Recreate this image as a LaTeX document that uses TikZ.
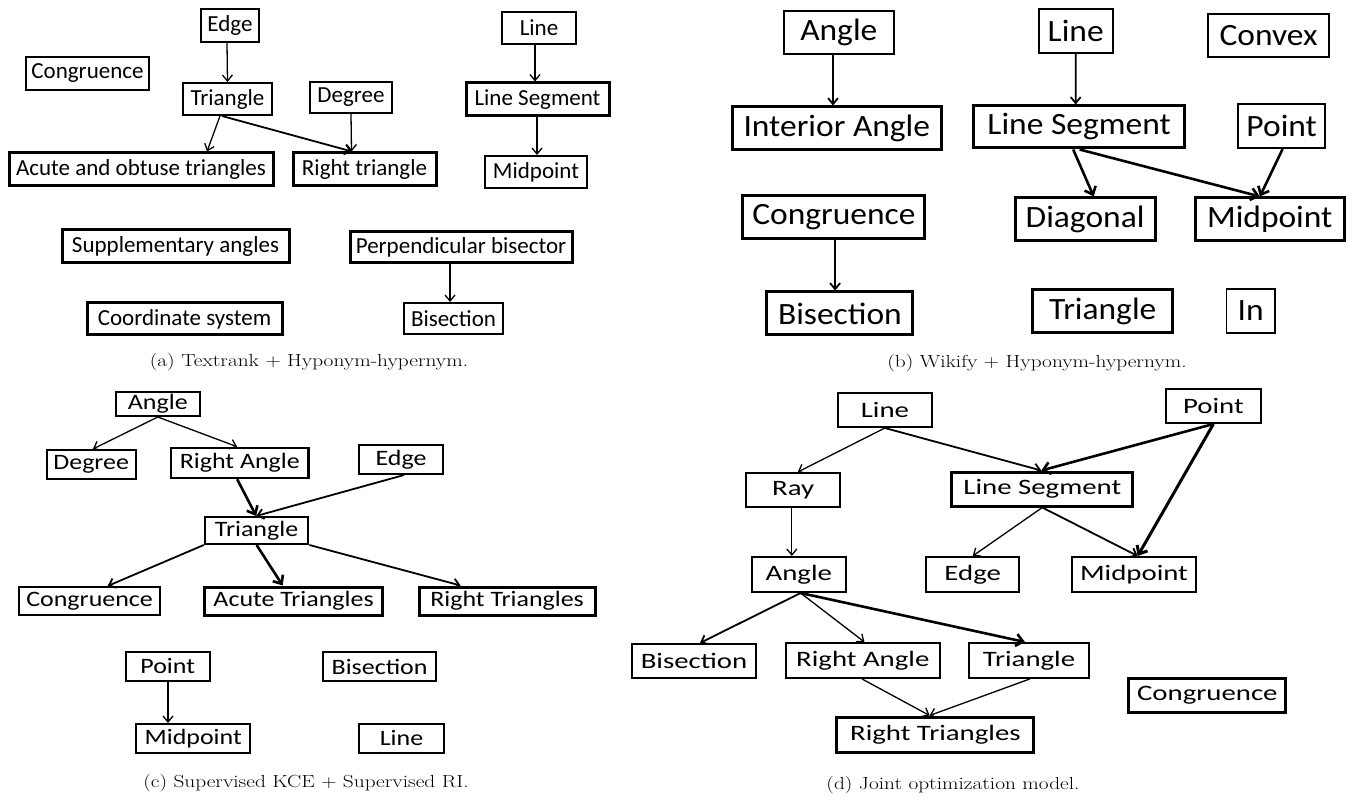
\documentclass[tikz,border=0pt]{standalone}
\usepackage{fontspec}
\newfontfamily\carlito{Carlito}
\usetikzlibrary{arrows.meta}
\tikzset{
  bx/.style={draw, rectangle, inner sep=0pt, align=center},
  wa/.style={line width=1.3pt}, wb/.style={line width=2pt}, wc/.style={line width=2.5pt}, wd/.style={line width=3pt},
  fa/.style={font=\fontsize{23}{23}\carlito},
  fb/.style={font=\fontsize{31}{31}\carlito},
  fc/.style={font=\fontsize{22}{22}\carlito},
  fd/.style={font=\fontsize{22}{22}\carlito},
  captext/.style={font=\fontsize{17.5}{20}\selectfont, inner sep=0pt},
  sz/.style n args={2}{minimum width=#1pt, minimum height=#2pt},
  ar/.style={-{Straight Barb[length=6pt,width=10pt]}, line width=1.3pt},
  arm/.style={-{Straight Barb[length=6pt,width=10pt]}, line width=1.8pt},
  art/.style={-{Straight Barb[length=7pt,width=12pt]}, line width=2.6pt},
}
\newcommand\pb[1]{\scalebox{1.08}[1]{#1}}
\newcommand\pc[1]{\scalebox{1.18}[1]{#1}}
\newcommand\pd[1]{\scalebox{1.31}[1]{#1}}
\newcommand\pcap[1]{\scalebox{1.22}[1]{#1}}
\begin{document}
\begin{tikzpicture}[x=1pt,y=-1pt]
\useasboundingbox (0,0) rectangle (1353,802);
% ---------- (a) ----------
\begin{scope}[every node/.append style={bx,fa}]
\node[wa,sz={58}{33}] (aedge) at (230,25.5) {Edge};
\node[wb,sz={123}{33}] (acong) at (87.5,73.5) {Congruence};
\node[wb,sz={89}{32}] (atri) at (227.5,99) {Triangle};
\node[wb,sz={82}{31}] (adeg) at (351,97.5) {Degree};
\node[wd,sz={264}{33}] (aacute) at (141,169.5) {Acute and obtuse triangles};
\node[wd,sz={143}{33}] (aright) at (364.5,169.5) {Right triangle};
\node[wb,sz={74}{32}] (aline) at (539,28) {Line};
\node[wd,sz={143}{33}] (aseg) at (537.5,99.5) {Line Segment};
\node[wb,sz={102}{32}] (amid) at (536,172) {Midpoint};
\node[wd,sz={222}{31}] (aperp) at (461,247.5) {Perpendicular bisector};
\node[wb,sz={99}{31}] (abis) at (453.5,318.5) {Bisection};
\node[wd,sz={227}{33}] (asupp) at (175.5,246.5) {Supplementary angles};
\node[wd,sz={195}{32}] (acoord) at (184.5,319) {Coordinate system};
\end{scope}
\draw[ar] ([xshift=-3pt]aedge.south) -- (atri.north);
\draw[ar] ([xshift=-7.5pt]atri.south) -- ([xshift=66pt]aacute.north);
\draw[arm] ([xshift=-5.5pt]atri.south) -- ([xshift=-12.5pt]aright.north);
\draw[ar] (adeg.south) -- ([xshift=-13pt]aright.north);
\draw[ar] ([xshift=-4pt]aline.south) -- ([xshift=-2.5pt]aseg.north);
\draw[ar] ([xshift=-0.5pt]aseg.south) -- ([xshift=1pt]amid.north);
\draw[ar] ([xshift=-11pt]aperp.south) -- ([xshift=-3.5pt]abis.north);
\node[captext] (capa) at (309,362) {\pcap{(a) Textrank $+$ Hyponym-hypernym.}};
% ---------- (b) ----------
\begin{scope}[every node/.append style={bx,fb}]
\node[wb,sz={110}{43}] (bangle) at (838.8,32.5) {\pb{Angle}};
\node[wb,sz={74.4}{44}] (bline) at (1075.7,31) {\pb{Line}};
\node[wc,sz={121.3}{43}] (bconvex) at (1268.5,35.5) {\pb{Convex}};
\node[wd,sz={209.4}{43}] (binter) at (836.8,128.5) {\pb{Interior Angle}};
\node[wd,sz={210.3}{42}] (bseg) at (1079.1,127) {\pb{Line Segment}};
\node[wb,sz={87.2}{44}] (bpoint) at (1281.7,126) {\pb{Point}};
\node[wd,sz={140.2}{43}] (bdiag) at (1085.1,219.5) {\pb{Diagonal}};
\node[wd,sz={149.5}{43}] (bmid) at (1269.8,219.5) {\pb{Midpoint}};
\node[wd,sz={182.1}{43}] (bcong) at (833.9,217.5) {\pb{Congruence}};
\node[wd,sz={146.1}{43}] (bbis) at (839.9,313.5) {\pb{Bisection}};
\node[wd,sz={140.1}{43}] (btri) at (1102.7,311.5) {\pb{Triangle}};
\node[wa,sz={48.7}{44}] (bin) at (1250.6,311) {\pb{In}};
\end{scope}
\draw[arm] ([xshift=-5.8pt]bangle.south) -- ([xshift=-3.8pt]binter.north);
\draw[arm] (bline.south) -- ([xshift=-3.4pt]bseg.north);
\draw[art] ([xshift=-5.9pt]bseg.south) -- ([xshift=8.6pt]bdiag.north);
\draw[art] ([xshift=0.5pt]bseg.south) -- ([xshift=-9.9pt]bmid.north);
\draw[art] ([xshift=0.9pt]bpoint.south) -- ([xshift=-9.9pt]bmid.north);
\draw[arm] ([xshift=1.2pt]bcong.south) -- ([xshift=-4.8pt]bbis.north);
\node[captext] (capb) at (1037,363) {\pcap{(b) Wikify $+$ Hyponym-hypernym.}};
% ---------- (c) ----------
\begin{scope}[every node/.append style={bx,fc}]
\node[wb,sz={83.8}{24}] (cangle) at (157.8,404) {\pc{Angle}};
\node[wb,sz={89}{29}] (cdeg) at (91.2,464.5) {\pc{Degree}};
\node[wc,sz={137.2}{30}] (cra) at (239.8,463) {\pc{Right Angle}};
\node[wb,sz={83.9}{29}] (cedge) at (401,459.5) {\pc{Edge}};
\node[wb,sz={103.6}{27}] (ctri) at (256.6,530.5) {\pc{Triangle}};
\node[wb,sz={141.1}{28}] (ccong) at (89.6,601) {\pc{Congruence}};
\node[wd,sz={178.4}{28}] (cacute) at (293.6,601) {\pc{Acute Triangles}};
\node[wd,sz={176}{28}] (crt) at (507.1,601) {\pc{Right Triangles}};
\node[wb,sz={83.9}{29}] (cpoint) at (167.7,666.5) {\pc{Point}};
\node[wc,sz={113.1}{29}] (cbis) at (379.6,666.5) {\pc{Bisection}};
\node[wb,sz={113.5}{29}] (cmid) at (193.2,738.5) {\pc{Midpoint}};
\node[wb,sz={85}{29}] (cline) at (401.5,738.5) {\pc{Line}};
\end{scope}
\draw[ar] (cangle.south) -- ([xshift=1.7pt]cdeg.north);
\draw[ar] (cangle.south) -- ([xshift=-2.6pt]cra.north);
\draw[art] ([xshift=-2.6pt]cra.south) -- ([xshift=-0.4pt]ctri.north);
\draw[arm] ([xshift=3.1pt]cedge.south) -- ([xshift=-0.4pt]ctri.north);
\draw[arm] (ctri.south west) -- ([xshift=18pt]ccong.north);
\draw[art] (ctri.south) -- ([xshift=-10.9pt]cacute.north);
\draw[arm] (ctri.south east) -- ([xshift=-46.5pt]crt.north);
\draw[ar] ([xshift=0.3pt]cpoint.south) -- ([xshift=-25.2pt]cmid.north);
\node[captext] (capc) at (306,783) {\pcap{(c) Supervised KCE $+$ Supervised RI.}};
% ---------- (d) ----------
\begin{scope}[every node/.append style={bx,fd}]
\node[wb,sz={94}{34}] (dline) at (884.9,410) {\pd{Line}};
\node[wb,sz={94.5}{34}] (dpoint) at (1213.4,406) {\pd{Point}};
\node[wb,sz={94}{34}] (dray) at (793.2,490) {\pd{Ray}};
\node[wd,sz={180.7}{34}] (dseg) at (1042.3,489) {\pd{Line Segment}};
\node[wb,sz={94}{35}] (dangle) at (798.8,574.5) {\pd{Angle}};
\node[wb,sz={93.5}{35}] (dedge) at (972.7,574.5) {\pd{Edge}};
\node[wb,sz={124.7}{35}] (dmid) at (1134,574.5) {\pd{Midpoint}};
\node[wb,sz={124.8}{34}] (dbis) at (694,661) {\pd{Bisection}};
\node[wb,sz={154.1}{35}] (dra) at (862.8,660.5) {\pd{Right Angle}};
\node[wb,sz={119.6}{35}] (dtri) at (1029,660.5) {\pd{Triangle}};
\node[wd,sz={156.9}{34}] (dcong) at (1207.3,695) {\pd{Congruence}};
\node[wd,sz={197}{35}] (drt) at (935.4,734.5) {\pd{Right Triangles}};
\end{scope}
\draw[ar] (dline.south) -- ([xshift=4.6pt]dray.north);
\draw[arm] (dline.south) -- ([xshift=-1pt]dseg.north);
\draw[art] (dpoint.south) -- ([xshift=-1pt]dseg.north);
\draw[art, line width=3pt] (dpoint.south) -- ([xshift=3.7pt]dmid.north);
\draw[ar] ([xshift=-1.4pt]dray.south) -- ([xshift=-7pt]dangle.north);
\draw[ar] (dseg.south) -- (dedge.north);
\draw[arm] (dseg.south) -- ([xshift=3.7pt]dmid.north);
\draw[arm] ([xshift=1.8pt]dangle.south) -- ([xshift=6pt]dbis.north);
\draw[ar] ([xshift=1.8pt]dangle.south) -- ([xshift=1.6pt]dra.north);
\draw[art] ([xshift=1.8pt]dangle.south) -- ([xshift=-4pt]dtri.north);
\draw[ar] ([xshift=-0.7pt]dra.south) -- ([xshift=-5.8pt]drt.north);
\draw[ar] ([xshift=0.7pt]dtri.south) -- ([xshift=-5.8pt]drt.north);
\node[captext] (capd) at (953,785) {\pcap{(d) Joint optimization model.}};
\end{tikzpicture}
\end{document}
